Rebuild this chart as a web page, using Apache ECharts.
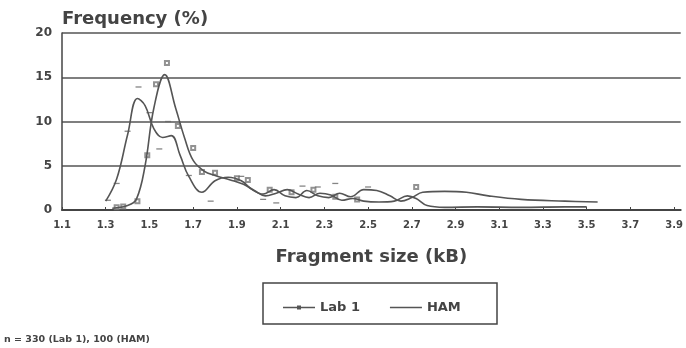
<!DOCTYPE html>
<html>
<head>
<meta charset="utf-8">
<script src="https://cdn.jsdelivr.net/npm/echarts@6/dist/echarts.min.js"></script>
<style>
  html, body { margin: 0; padding: 0; background: #fff; }
  #chart { width: 686px; height: 348px; }
</style>
</head>
<body>
<div id="chart"></div>
<script>
// smoothed curves, [size kB, frequency %]
const lab1Curve = [
  [1.33, 0.2], [1.40, 0.5], [1.44, 1.2], [1.48, 5], [1.52, 11.5], [1.57, 15.3],
  [1.62, 11.5], [1.66, 8.2], [1.70, 5.6], [1.75, 4.4], [1.80, 3.9], [1.87, 3.4],
  [1.93, 2.9], [1.98, 2.2], [2.03, 1.6], [2.08, 1.9], [2.13, 2.3], [2.18, 1.8],
  [2.23, 1.4], [2.28, 1.9], [2.33, 1.7], [2.38, 1.1], [2.43, 1.3], [2.48, 1.0],
  [2.55, 0.9], [2.62, 1.0], [2.68, 1.6], [2.72, 1.3], [2.77, 0.5], [2.85, 0.3],
  [3.00, 0.35], [3.20, 0.3], [3.40, 0.35], [3.50, 0.35]
];
const hamCurve = [
  [1.30, 1.0], [1.35, 3.5], [1.40, 8.5], [1.445, 12.6], [1.48, 11.8], [1.52, 9.2],
  [1.56, 8.2], [1.60, 8.4], [1.64, 6.2], [1.68, 3.8], [1.74, 2.0], [1.80, 3.3],
  [1.86, 3.7], [1.92, 3.3], [1.97, 2.3], [2.02, 1.8], [2.07, 2.3], [2.12, 1.6],
  [2.17, 1.4], [2.22, 2.2], [2.27, 1.6], [2.32, 1.4], [2.37, 1.9], [2.42, 1.5],
  [2.48, 2.3], [2.54, 2.2], [2.60, 1.6], [2.65, 1.0], [2.70, 1.4], [2.75, 2.0],
  [2.85, 2.1], [2.95, 2.0], [3.05, 1.6], [3.20, 1.2], [3.40, 1.0], [3.55, 0.9]
];
// raw points
const lab1Points = [
  [1.35, 0.3], [1.38, 0.4], [1.445, 1.0], [1.49, 6.2], [1.53, 14.2], [1.58, 16.6],
  [1.63, 9.5], [1.70, 7.0], [1.74, 4.3], [1.80, 4.2], [1.90, 3.6], [1.95, 3.4],
  [2.05, 2.3], [2.15, 2.0], [2.25, 2.3], [2.35, 1.5], [2.45, 1.2], [2.72, 2.6]
];
const hamPoints = [
  [1.31, 1.1], [1.35, 3.0], [1.40, 8.9], [1.45, 13.9], [1.50, 11.0], [1.545, 6.9],
  [1.585, 10.0], [1.68, 3.9], [1.78, 1.0], [1.92, 3.8], [2.02, 1.2], [2.08, 0.8],
  [2.20, 2.7], [2.27, 2.6], [2.35, 3.0], [2.50, 2.6]
];
const seriesNames = ['Lab 1', 'HAM'];

const ink = '#444';
const font = 'DejaVu Sans';
// legend icons: line with dot, plain line
const lab1Icon = 'path://M0,4.2 L32,4.2 L32,5.8 L0,5.8 Z M14,3 L18,3 L18,7 L14,7 Z';
const hamIcon = 'path://M0,4.3 L32,4.3 L32,5.7 L0,5.7 Z';

const chart = echarts.init(document.getElementById('chart'));
chart.setOption({
  animation: false,
  backgroundColor: '#fff',
  textStyle: { fontFamily: font },
  grid: { left: 62, right: 1, top: 33, bottom: 138 },
  graphic: [
    { type: 'text', left: 62, top: 10,
      style: { text: 'Frequency (%)', font: 'bold 18px ' + font, fill: ink } },
    { type: 'text', left: 4, top: 335,
      style: { text: 'n = 330 (Lab 1), 100 (HAM)', font: 'bold 9.5px ' + font, fill: ink } },
    { type: 'rect', shape: { x: 263, y: 283, width: 234, height: 41 },
      style: { fill: 'none', stroke: ink, lineWidth: 1.5 } }
  ],
  legend: {
    data: [{ name: seriesNames[0], icon: lab1Icon }, { name: seriesNames[1], icon: hamIcon }],
    left: 278, top: 296,
    itemWidth: 32, itemHeight: 10, itemGap: 30,
    itemStyle: { color: '#555' },
    textStyle: { fontSize: 13, fontWeight: 'bold', color: ink, fontFamily: font }
  },
  xAxis: {
    type: 'value', min: 1.1, max: 3.93, interval: 0.2,
    name: 'Fragment size (kB)', nameLocation: 'middle', nameGap: 38,
    nameTextStyle: { fontSize: 18, fontWeight: 'bold', color: ink, fontFamily: font },
    axisLine: { lineStyle: { color: ink, width: 2 } },
    axisTick: { show: true, inside: true, length: 3, lineStyle: { color: ink } },
    axisLabel: { margin: 10, fontSize: 10, fontWeight: 'bold', color: ink,
      showMaxLabel: false, formatter: v => v.toFixed(1) },
    splitLine: { show: false }
  },
  yAxis: {
    type: 'value', min: 0, max: 20, interval: 5,
    axisLine: { show: true, lineStyle: { color: ink, width: 1.5 } },
    axisTick: { show: false },
    axisLabel: { margin: 10, fontSize: 12, fontWeight: 'bold', color: ink },
    splitLine: { lineStyle: { color: '#555', width: 1.5 } }
  },
  series: [
    { name: 'Lab 1', type: 'line', data: lab1Curve, smooth: 0.4,
      symbol: 'none',
      lineStyle: { color: '#555', width: 1.6 }, itemStyle: { color: '#555' } },
    { name: 'HAM', type: 'line', data: hamCurve, smooth: 0.4,
      symbol: 'none',
      lineStyle: { color: '#555', width: 1.6 }, itemStyle: { color: '#555' } },
    { name: 'Lab 1 raw', type: 'scatter', data: lab1Points,
      symbol: 'emptyRect', symbolSize: 4,
      itemStyle: { color: '#777', borderWidth: 0.8 } },
    { name: 'HAM raw', type: 'scatter', data: hamPoints,
      symbol: 'rect', symbolSize: [6, 1.3],
      itemStyle: { color: '#666' } }
  ]
});
</script>
</body>
</html>
